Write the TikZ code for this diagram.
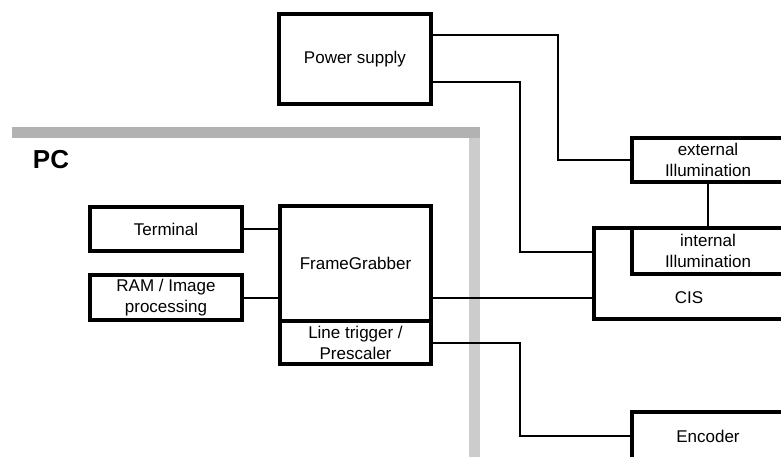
\documentclass[tikz,border=0pt]{standalone}
\usepackage{fontspec}
\setmainfont{Liberation Sans}
\usetikzlibrary{positioning}

\begin{document}
\begin{tikzpicture}[x=1pt, y=-1pt, font=\fontsize{17}{21}\selectfont,
    block/.style={draw, line width=4.5pt, align=center, inner sep=0pt},
    wire/.style={line width=2pt}]
  \useasboundingbox (0,0) rectangle (781,457);
  % PC frame
  \fill[black!30] (12,127) rectangle (480,138);
  \fill[black!20] (469,138) rectangle (480,457);
  \node (pc) at (51,160) {\fontsize{26}{30}\selectfont\bfseries PC};
  % blocks
  \node (psu)  [block, minimum width=152pt, minimum height=90pt]  at (355,59)    {Power supply};
  \node (term) [block, minimum width=152pt, minimum height=44pt]  at (166,229)   {Terminal};
  \node (ram)  [block, minimum width=152pt, minimum height=45pt]  at (166,297.5) {RAM / Image\\processing};
  \node (fg)   [block, minimum width=151pt, minimum height=115pt] at (355.5,263.5) {FrameGrabber};
  \node (lt)   [block, minimum width=151pt, minimum height=43pt]  at (355.5,342.5) {Line trigger /\\Prescaler};
  \node (ext)  [block, minimum width=152pt, minimum height=44pt]  at (708,160)   {external\\Illumination};
  \node (cis)  [block, minimum width=190pt, minimum height=91pt,
                label={[yshift=-24.5pt]center:CIS}] at (689,273.5) {};
  \node (intl) [block, minimum width=152pt, minimum height=46pt]  at (708,251)   {internal\\Illumination};
  \node (enc)  [block, minimum width=152pt, minimum height=48pt]  at (708,436)   {Encoder};
  % connections
  \draw[wire] ([yshift=24pt]psu.east) -- ++(125,0) |- (ext.west);
  \draw[wire] ([yshift=-23pt]psu.east) -- ++(87,0) |- ([yshift=21.5pt]cis.west);
  \draw[wire] (ext.south) -- (intl.north);
  \draw[wire] (term.east) -- (term.east -| fg.west);
  \draw[wire] (ram.east) -- (ram.east -| fg.west);
  \draw[wire] (ram.east -| fg.east) -- (ram.east -| cis.west);
  \draw[wire] (lt.east) -- ++(87,0) |- (enc.west);
\end{tikzpicture}
\end{document}
